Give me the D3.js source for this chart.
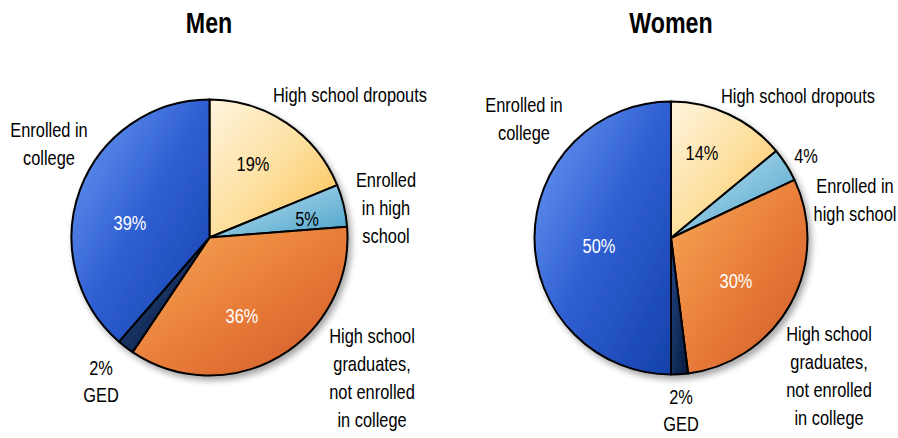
<!DOCTYPE html>
<html>
<head>
<meta charset="utf-8">
<script src="https://cdn.jsdelivr.net/npm/d3@7/dist/d3.min.js"></script>
<style>
  html, body { margin: 0; padding: 0; background: #fff; }
  svg text { font-family: "Liberation Sans", Arial, sans-serif; }
</style>
</head>
<body>
<div id="chart"></div>
<script>
// Data
const categories = [
  'High school dropouts',
  'Enrolled in high school',
  'High school graduates, not enrolled in college',
  'GED',
  'Enrolled in college'
];
const menValues = [19, 5, 36, 2, 39];
const womenValues = [14, 4, 30, 2, 50];
const chartTitles = ['Men', 'Women'];

// Slice colours (light -> mid -> dark gradient)
const sliceColors = [
  ['#fff4de', '#fde0a0', '#fbc050'],
  ['#cce7f2', '#86c3de', '#4aa2ca'],
  ['#f7aa58', '#e97e3a', '#cf5a26'],
  ['#24468a', '#13305f', '#081a3c'],
  ['#6f9cf4', '#2f5fd2', '#1441ab']
];
const whiteText = [false, false, true, false, true];

// Layout (label positions are hand-placed, like the original)
const width = 898;
const height = 438;
const lineHeight = 28;
const squeeze = 0.8; // fake a condensed face by narrowing Liberation Sans

const layouts = [
  {
    cx: 209.5, cy: 237.5, r: 138, titleX: 209,
    pct: [[253, 171], [307, 226], [242, 323], null, [130, 230]],
    labels: [
      { x: 350, y: 102, lines: ['High school dropouts'] },
      { x: 386, y: 187, lines: ['Enrolled', 'in high', 'school'] },
      { x: 372, y: 343, lines: ['High school', 'graduates,', 'not enrolled', 'in college'] },
      { x: 101, y: 375, lines: ['2%', 'GED'] },
      { x: 49, y: 137, lines: ['Enrolled in', 'college'] }
    ]
  },
  {
    cx: 671, cy: 238, r: 136.5, titleX: 671,
    pct: [[702, 160], [806, 163], [736, 288], null, [599, 253]],
    labels: [
      { x: 798, y: 103, lines: ['High school dropouts'] },
      { x: 855, y: 193, lines: ['Enrolled in', 'high school'] },
      { x: 829, y: 341, lines: ['High school', 'graduates,', 'not enrolled', 'in college'] },
      { x: 681, y: 404, lines: ['2%', 'GED'] },
      { x: 524, y: 112, lines: ['Enrolled in', 'college'] }
    ]
  }
];

const svg = d3.select('#chart')
  .append('svg')
  .attr('width', width)
  .attr('height', height);

const defs = svg.append('defs');

// Soft drop shadow under each pie
const shadow = defs.append('filter')
  .attr('id', 'shadow')
  .attr('x', '-20%').attr('y', '-20%')
  .attr('width', '140%').attr('height', '140%');
shadow.append('feDropShadow')
  .attr('dx', 3)
  .attr('dy', 4)
  .attr('stdDeviation', 3)
  .attr('flood-color', '#000')
  .attr('flood-opacity', 0.35);

// One gradient per category
sliceColors.forEach((c, i) => {
  const g = defs.append('linearGradient')
    .attr('id', `grad-${i}`)
    .attr('x1', 0).attr('y1', 0)
    .attr('x2', 1).attr('y2', 1);
  g.append('stop').attr('offset', '0%').attr('stop-color', c[0]);
  g.append('stop').attr('offset', '50%').attr('stop-color', c[1]);
  g.append('stop').attr('offset', '100%').attr('stop-color', c[2]);
});

// Narrowed text helper
const addText = (x, y, str, size, opts = {}) => {
  svg.append('g')
    .attr('transform', `translate(${x},${y}) scale(${squeeze},1)`)
    .append('text')
    .attr('text-anchor', 'middle')
    .style('font-size', `${size}px`)
    .style('font-weight', opts.bold ? 'bold' : 'normal')
    .attr('fill', opts.fill || '#000')
    .text(str);
};

const pie = d3.pie().sort(null).value(d => d);

const drawPie = (values, title, layout) => {
  const arc = d3.arc().innerRadius(0).outerRadius(layout.r);
  const arcs = pie(values);

  // Title
  addText(layout.titleX, 33, title, 29, { bold: true });

  // Slices
  const g = svg.append('g')
    .attr('transform', `translate(${layout.cx},${layout.cy})`)
    .attr('filter', 'url(#shadow)');

  g.selectAll('path')
    .data(arcs)
    .enter()
    .append('path')
    .attr('d', arc)
    .attr('fill', (d, i) => `url(#grad-${i})`)
    .attr('stroke', '#000')
    .attr('stroke-width', 2)
    .attr('stroke-linejoin', 'round');

  // Percentage labels
  arcs.forEach((d, i) => {
    const p = layout.pct[i];
    if (!p) return;
    addText(p[0], p[1], `${d.data}%`, 20.5, { fill: whiteText[i] ? '#fff' : '#000' });
  });

  // Category labels
  layout.labels.forEach((lab) => {
    const step = lab.lines[0] === '2%' ? 27 : lineHeight;
    lab.lines.forEach((line, j) => {
      addText(lab.x, lab.y + j * step, line, 20.5);
    });
  });
};

drawPie(menValues, chartTitles[0], layouts[0]);
drawPie(womenValues, chartTitles[1], layouts[1]);
</script>
</body>
</html>
